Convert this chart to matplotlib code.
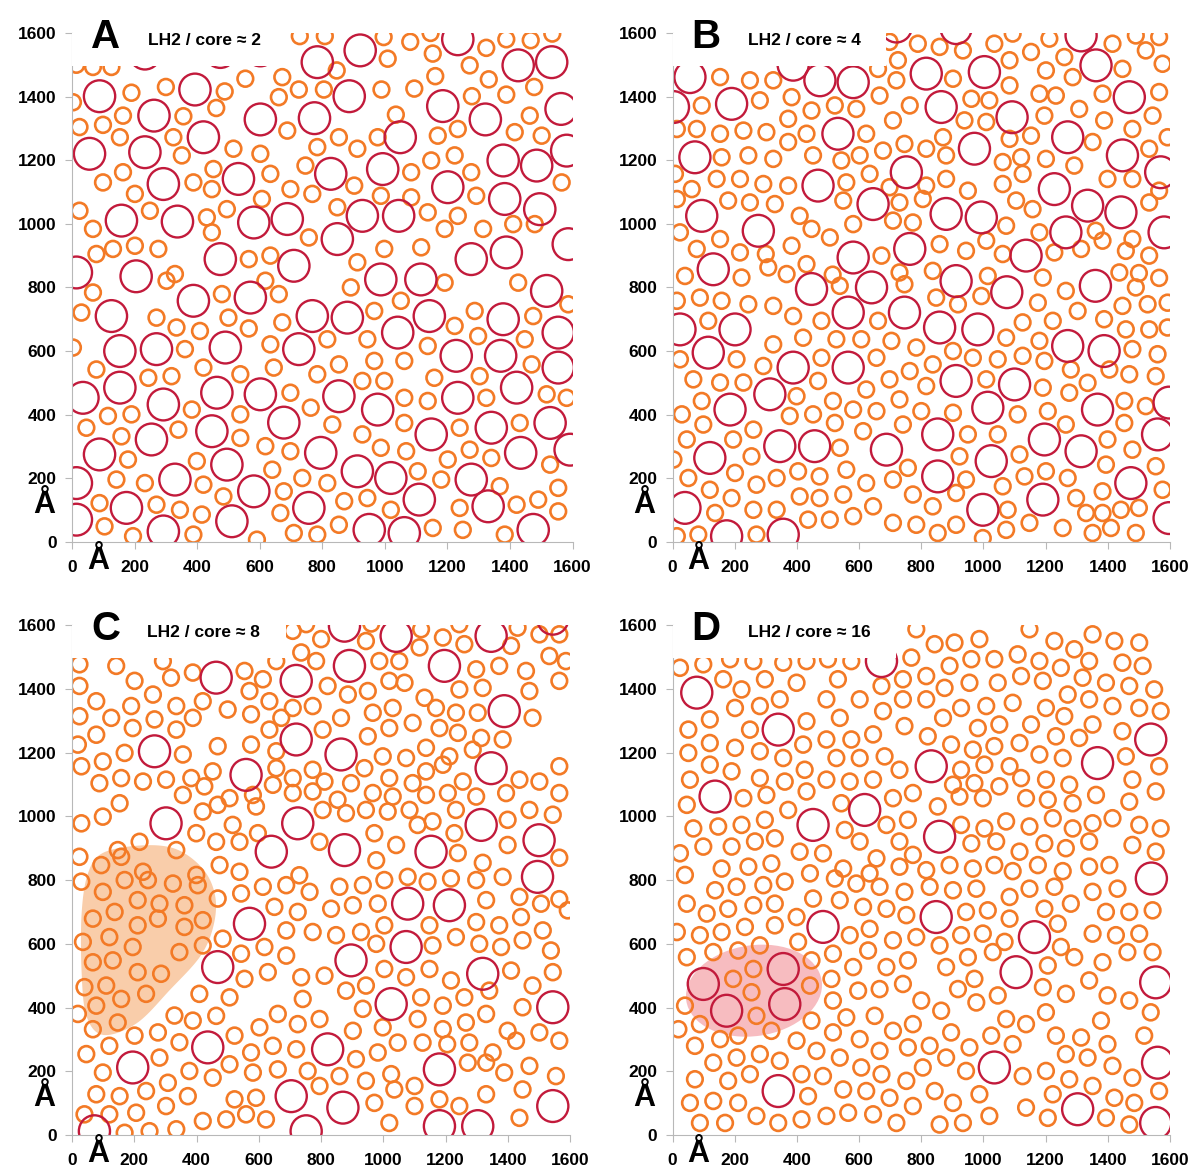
import numpy as np
import matplotlib
matplotlib.use("Agg")
import matplotlib.pyplot as plt
from matplotlib.patches import Circle, Rectangle, Ellipse, Polygon
from matplotlib.collections import PatchCollection

plt.rcParams['font.family'] = ['Liberation Sans', 'DejaVu Sans']

# ─────────────────────────────────────────────
# Data: ring centres in Å
# ─────────────────────────────────────────────
A_CORES = [
    (921, 1545), (1233, 1580), (784, 1508), (1426, 1498), (1533, 1508), (233, 1535), (474, 1540), (602, 1545),
    (393, 1422), (886, 1401), (88, 1401), (1563, 1361), (1185, 1370), (262, 1340), (602, 1328), (775, 1332),
    (1321, 1328), (1049, 1272), (56, 1220), (233, 1225), (420, 1272), (1378, 1199), (1485, 1183), (1581, 1230),
    (827, 1157), (993, 1172), (292, 1125), (532, 1141), (1201, 1115), (1383, 1078), (158, 1010), (337, 1007),
    (581, 1004), (688, 1015), (928, 1025), (1044, 1025), (1495, 1046), (848, 952), (474, 889), (709, 868),
    (1276, 889), (1388, 910), (1586, 936), (14, 847), (205, 835), (987, 825), (1115, 825),
    (1517, 789), (388, 758), (570, 768), (126, 710), (768, 710), (880, 705), (1041, 658), (1142, 710),
    (1378, 700), (1554, 658), (153, 600), (270, 606), (490, 611), (725, 606), (1228, 585), (1370, 585),
    (1554, 548), (153, 485), (35, 453), (292, 432), (463, 469), (602, 464), (853, 458), (1233, 453),
    (1421, 485), (977, 416), (677, 375), (1340, 359), (1528, 374), (254, 322), (447, 348), (1148, 338),
    (88, 275), (495, 243), (795, 280), (1434, 280), (1592, 290), (912, 222), (1019, 201), (1276, 196),
    (14, 185), (329, 196), (581, 159), (174, 107), (757, 107), (1110, 133), (1330, 112), (14, 70),
    (292, 33), (511, 65), (950, 38), (1062, 28), (1474, 38),
]
A_LH2 = [
    (728, 1590), (808, 1590), (996, 1587), (1081, 1572), (1146, 1600), (1324, 1553), (1388, 1580), (1466, 1577),
    (1535, 1598), (1009, 1519), (1153, 1535), (846, 1482), (1271, 1498), (14, 1500), (67, 1493), (126, 1493),
    (554, 1456), (672, 1461), (1161, 1464), (1332, 1454), (1477, 1430), (190, 1412), (300, 1430), (488, 1416),
    (661, 1398), (725, 1422), (805, 1422), (989, 1422), (1094, 1425), (1278, 1401), (1388, 1406), (3, 1382),
    (163, 1340), (461, 1364), (1035, 1343), (1463, 1340), (24, 1304), (99, 1311), (356, 1338), (153, 1272),
    (324, 1272), (688, 1293), (853, 1272), (977, 1272), (1169, 1277), (1233, 1298), (1415, 1288), (1501, 1277),
    (351, 1215), (516, 1236), (602, 1220), (784, 1241), (912, 1236), (1148, 1199), (1223, 1215), (746, 1183),
    (452, 1172), (163, 1162), (634, 1157), (1084, 1162), (1276, 1162), (99, 1130), (388, 1130), (447, 1109),
    (902, 1120), (1565, 1130), (201, 1094), (607, 1078), (698, 1109), (768, 1094), (987, 1088), (1084, 1083),
    (1292, 1088), (24, 1041), (249, 1041), (431, 1020), (495, 1046), (848, 1052), (1137, 1036), (1233, 1025),
    (67, 984), (447, 973), (757, 957), (1191, 984), (1314, 984), (1410, 999), (1479, 999), (131, 921),
    (78, 905), (201, 931), (276, 921), (998, 921), (1116, 926), (912, 879), (634, 900), (565, 889), (329, 842),
    (302, 821), (618, 821), (1191, 815), (1426, 815), (67, 784), (479, 779), (661, 779), (891, 800),
    (1051, 758), (1586, 747), (30, 721), (270, 705), (334, 674), (409, 663), (500, 705), (565, 671),
    (672, 690), (966, 726), (1223, 679), (1287, 726), (1474, 710), (816, 637), (944, 637), (1298, 647),
    (1447, 637), (3, 611), (361, 606), (634, 621), (1137, 616), (78, 542), (420, 548), (538, 527),
    (645, 548), (784, 527), (853, 558), (966, 569), (1062, 569), (1158, 516), (1303, 521), (1469, 558),
    (928, 506), (998, 506), (244, 516), (318, 521), (698, 469), (1062, 453), (1137, 443), (1324, 453),
    (1517, 464), (1581, 453), (763, 422), (115, 396), (190, 401), (383, 416), (538, 401), (832, 369),
    (1062, 374), (1239, 359), (1431, 374), (46, 359), (158, 332), (340, 353), (538, 327), (928, 338),
    (987, 296), (179, 259), (399, 254), (618, 301), (698, 285), (1068, 285), (1201, 259), (1271, 290),
    (1340, 264), (1528, 243), (640, 227), (1105, 222), (1180, 196), (142, 196), (233, 185), (420, 180),
    (484, 143), (677, 159), (736, 201), (816, 185), (1367, 175), (1554, 170), (88, 122), (270, 117),
    (345, 101), (870, 128), (944, 138), (1019, 101), (1239, 107), (1421, 117), (1490, 133), (1554, 96),
    (104, 49), (195, 18), (388, 23), (415, 86), (666, 91), (709, 28), (784, 23), (853, 54),
    (1153, 44), (1249, 38), (1383, 23), (591, 7),
]

B_CORES = [
    (720, 1620), (912, 1615), (1314, 1592), (816, 1472), (1003, 1477), (1362, 1498), (56, 1461), (388, 1500),
    (474, 1451), (581, 1445), (190, 1377), (3, 1367), (864, 1367), (1092, 1335), (1469, 1398), (532, 1283),
    (971, 1236), (1271, 1272), (72, 1209), (752, 1162), (1447, 1215), (1570, 1162), (468, 1120), (1228, 1109),
    (1335, 1057), (94, 1025), (645, 1062), (880, 1031), (993, 1020), (1442, 1036), (276, 978), (1265, 973),
    (1581, 973), (581, 894), (763, 921), (1137, 900), (131, 857), (447, 795), (640, 800), (912, 820),
    (1075, 785), (1360, 805), (565, 721), (746, 721), (24, 668), (201, 668), (859, 674), (982, 668),
    (1271, 616), (1388, 600), (115, 595), (388, 548), (565, 548), (912, 506), (1100, 495), (313, 464),
    (185, 416), (1014, 422), (1367, 416), (1597, 438), (120, 264), (345, 301), (457, 301), (688, 290),
    (853, 338), (1196, 322), (1314, 285), (1560, 338), (1025, 254), (853, 206), (1474, 185), (40, 107),
    (998, 101), (1191, 133), (1597, 75), (174, 18), (356, 23),
]
B_LH2 = [
    (789, 1566), (859, 1556), (934, 1545), (1035, 1566), (1094, 1598), (1153, 1540), (1212, 1582), (1260, 1524),
    (1415, 1566), (1490, 1592), (1522, 1545), (1565, 1587), (725, 1514), (698, 1572), (1447, 1487), (1576, 1503),
    (1084, 1514), (1201, 1482), (153, 1461), (249, 1451), (324, 1451), (661, 1487), (666, 1403), (720, 1451),
    (902, 1456), (1084, 1435), (1287, 1461), (94, 1372), (281, 1388), (383, 1398), (522, 1372), (591, 1361),
    (763, 1372), (961, 1393), (1019, 1388), (1180, 1409), (1233, 1403), (1308, 1361), (1383, 1409), (1565, 1414),
    (447, 1356), (372, 1330), (709, 1325), (939, 1325), (1009, 1320), (1196, 1340), (1388, 1325), (1544, 1340),
    (14, 1298), (78, 1298), (153, 1283), (228, 1293), (302, 1288), (431, 1283), (623, 1283), (746, 1251),
    (816, 1236), (870, 1272), (1084, 1267), (1153, 1277), (1351, 1257), (1479, 1298), (1592, 1272), (158, 1209),
    (244, 1215), (324, 1204), (372, 1257), (452, 1215), (543, 1199), (602, 1215), (677, 1230), (880, 1215),
    (1062, 1194), (1121, 1209), (1201, 1204), (1292, 1183), (1533, 1236), (8, 1157), (62, 1109), (142, 1141),
    (217, 1141), (292, 1125), (372, 1120), (559, 1130), (634, 1157), (698, 1115), (816, 1120), (880, 1141),
    (950, 1104), (1062, 1125), (1126, 1157), (1399, 1141), (1479, 1141), (1565, 1104), (14, 1078), (179, 1073),
    (249, 1067), (329, 1062), (409, 1025), (549, 1073), (730, 1067), (805, 1078), (1105, 1073), (1158, 1046),
    (1533, 1067), (24, 973), (153, 952), (447, 984), (506, 957), (581, 999),
    (709, 1010), (773, 1004), (1073, 994), (1180, 973), (1361, 978), (1479, 952), (78, 921), (217, 910),
    (383, 931), (431, 873), (672, 900), (859, 936), (944, 915), (1009, 947), (1062, 905), (1228, 910),
    (1314, 921), (1383, 947), (1458, 915), (1533, 900), (40, 836), (222, 831), (308, 863), (367, 842),
    (515, 840), (730, 847), (837, 852), (1014, 836), (1191, 831), (1437, 847), (1500, 845), (1565, 830),
    (538, 805), (746, 810), (1265, 789), (1490, 800), (14, 758), (88, 768), (158, 758),
    (244, 747), (324, 742), (388, 710), (479, 695), (661, 695), (848, 768), (918, 747), (993, 773),
    (1175, 752), (1303, 726), (1447, 742), (1528, 747), (1592, 752), (115, 695), (1126, 690), (1223, 695),
    (1388, 700), (1458, 668), (1533, 668), (1592, 674), (324, 621), (420, 642), (527, 637), (607, 637),
    (704, 632), (784, 611), (1073, 642), (1180, 632), (1479, 606), (1560, 590), (24, 574), (206, 574),
    (292, 553), (479, 579), (656, 579), (763, 537), (837, 558), (902, 600), (966, 579), (1046, 574),
    (1126, 585), (1196, 569), (1281, 542), (1405, 542), (1469, 527), (1554, 521), (67, 511), (153, 501),
    (228, 501), (468, 506), (623, 479), (698, 511), (816, 490), (1009, 511), (1191, 485),
    (94, 443), (30, 401), (399, 458), (516, 443), (581, 416), (656, 411), (730, 448), (800, 411),
    (902, 406), (1110, 401), (1207, 411), (1276, 469), (1453, 443), (1522, 427), (99, 369), (260, 353),
    (377, 396), (452, 401), (522, 374), (613, 348), (741, 369), (1265, 369), (1453, 374), (46, 322),
    (195, 322), (538, 296), (950, 338), (1046, 338), (1399, 322), (1479, 290), (3, 259), (254, 269),
    (559, 227), (757, 233), (923, 269), (1116, 275), (1394, 243), (1554, 238), (51, 201), (201, 217),
    (270, 180), (335, 201), (404, 222), (473, 206), (623, 185), (709, 196), (944, 196), (1062, 175),
    (1132, 206), (1201, 222), (1271, 201), (1383, 159), (120, 164), (137, 91), (190, 138), (260, 101),
    (335, 101), (409, 143), (473, 138), (549, 149), (645, 112), (773, 149), (837, 112), (912, 154),
    (1078, 101), (1298, 138), (1442, 101), (1576, 164), (14, 18), (83, 23), (270, 23), (436, 70),
    (506, 70), (581, 81), (709, 60), (784, 54), (853, 28), (912, 54), (998, 12), (1073, 38),
    (1148, 60), (1255, 44), (1330, 91), (1351, 28), (1410, 44), (1490, 28), (300, 905), (1335, 500),
    (1383, 91), (1500, 107),
]

C_CORES = [
    (875, 1598), (1041, 1566), (1346, 1566), (1544, 1620), (891, 1472), (1196, 1472), (463, 1435), (720, 1425),
    (1388, 1330), (720, 1241), (265, 1204), (864, 1194), (559, 1130), (1346, 1151), (302, 978), (725, 978),
    (1314, 973), (1500, 925), (640, 889), (875, 894), (1153, 889), (1495, 810), (1078, 726), (1212, 721),
    (570, 663), (1073, 590), (468, 527), (896, 548), (1319, 506), (1025, 411), (1544, 401), (195, 212),
    (436, 275), (821, 269), (1180, 206), (704, 122), (870, 86), (1544, 91), (752, 12), (1180, 28),
    (1303, 28), (72, 12),
]
C_LH2 = [
    (709, 1582), (752, 1603), (1121, 1587), (1191, 1561), (1244, 1603), (1431, 1592), (1501, 1571), (1565, 1571),
    (800, 1556), (944, 1550), (1116, 1530), (1260, 1540), (1410, 1535), (736, 1514), (1051, 1487), (987, 1487),
    (1533, 1503), (1586, 1487), (24, 1477), (142, 1472), (292, 1487), (656, 1487), (784, 1487), (554, 1456),
    (388, 1451), (318, 1435), (201, 1425), (24, 1409), (613, 1430), (821, 1409), (1068, 1419), (1298, 1461),
    (1372, 1472), (1458, 1456), (1565, 1425), (886, 1382), (950, 1393), (1132, 1372), (1244, 1398), (1319, 1403),
    (1469, 1393), (78, 1361), (190, 1346), (260, 1382), (335, 1346), (420, 1361), (500, 1335), (570, 1393),
    (634, 1361), (709, 1340), (773, 1346), (24, 1314), (126, 1309), (265, 1304), (575, 1320), (1479, 1309),
    (864, 1309), (966, 1325), (1030, 1340), (1094, 1293), (1169, 1340), (1233, 1325), (1303, 1325), (78, 1256),
    (195, 1277), (335, 1272), (634, 1272), (805, 1272), (950, 1251), (1019, 1277), (1239, 1262), (1314, 1246),
    (1383, 1241), (19, 1225), (356, 1194), (468, 1220), (575, 1225), (656, 1204), (1137, 1215), (1212, 1188),
    (1287, 1209), (30, 1157), (99, 1172), (169, 1199), (88, 1104), (158, 1120), (228, 1109), (302, 1115),
    (383, 1120), (452, 1141), (656, 1151), (773, 1146), (811, 1109), (939, 1151), (998, 1188), (1073, 1183),
    (1191, 1162), (1501, 1109), (1565, 1157), (896, 1104), (1094, 1104), (1255, 1109), (1437, 1115), (1565, 1073),
    (153, 1041), (356, 1067), (506, 1057), (581, 1067), (645, 1099), (709, 1073), (853, 1052), (966, 1073),
    (1030, 1062), (1207, 1073), (1394, 1073), (30, 978), (99, 999), (468, 1036), (516, 973), (591, 1031),
    (805, 1020), (880, 1010), (944, 1020), (1084, 1020), (1158, 984), (1233, 1020), (1399, 989), (1469, 1020),
    (1544, 1005), (217, 920), (147, 894), (335, 894), (399, 947), (463, 920), (538, 920), (597, 947),
    (795, 920), (971, 947), (1041, 910), (1110, 973), (1228, 947), (1399, 910), (24, 873), (94, 847),
    (158, 873), (1565, 870), (228, 826), (399, 816), (474, 847), (30, 795), (99, 763), (169, 800),
    (244, 800), (324, 789), (404, 784), (543, 758), (613, 779), (688, 784), (763, 763), (859, 779),
    (934, 784), (1078, 810), (1142, 795), (1298, 800), (1383, 810), (1565, 740), (1506, 726), (1437, 747),
    (1330, 737), (211, 737), (281, 726), (361, 721), (468, 742), (650, 716), (725, 700), (832, 710),
    (902, 721), (982, 726), (67, 679), (137, 700), (211, 658), (276, 679), (361, 653), (420, 674),
    (688, 642), (773, 637), (848, 627), (928, 637), (1003, 658), (1148, 658), (1298, 668), (1372, 658),
    (1442, 684), (1512, 642), (1592, 705), (35, 606), (120, 621), (195, 590), (345, 574), (420, 595),
    (484, 616), (543, 569), (618, 590), (977, 600), (1233, 621), (1308, 600), (1447, 611), (1538, 579),
    (67, 542), (131, 548), (211, 511), (286, 506), (554, 490), (629, 511), (688, 563), (736, 495),
    (811, 500), (1003, 521), (1073, 495), (1148, 521), (1217, 485), (1410, 516), (1479, 469), (1544, 511),
    (40, 464), (110, 469), (158, 427), (238, 443), (409, 443), (506, 432), (741, 427), (880, 453),
    (1121, 432), (1191, 406), (1260, 432), (1340, 453), (19, 380), (78, 406), (147, 353), (67, 332),
    (201, 312), (276, 322), (329, 375), (388, 359), (463, 374), (522, 312), (602, 338), (661, 380),
    (725, 348), (795, 364), (934, 396), (998, 338), (1046, 290), (1110, 364), (1191, 332), (1265, 353),
    (1330, 380), (1399, 327), (1447, 401), (1501, 322), (902, 327), (345, 291), (46, 254), (120, 280),
    (281, 243), (506, 222), (575, 259), (645, 280), (720, 269), (912, 238), (982, 259), (1126, 290),
    (1351, 259), (1426, 296), (1565, 296), (99, 196), (308, 164), (377, 201), (452, 180), (581, 196),
    (661, 206), (757, 201), (859, 185), (944, 170), (1025, 191), (1330, 227), (1469, 217), (1554, 185),
    (1100, 154), (78, 128), (153, 122), (238, 138), (302, 91), (372, 122), (522, 112), (795, 154),
    (971, 101), (1100, 91), (1244, 91), (40, 65), (120, 65), (206, 70), (420, 44), (495, 49),
    (559, 65), (623, 49), (1019, 38), (1437, 54), (335, 18),
    (961, 1605), (1019, 1425), (388, 1309), (672, 1309), (1180, 1277), (709, 1120), (1137, 1141), (1019, 1120),
    (425, 1094), (773, 1078), (1137, 1067), (1298, 1062), (420, 1015), (1014, 1015), (1239, 885), (977, 862),
    (1319, 854), (538, 826), (730, 815), (1003, 800), (1217, 805), (1158, 595), (1378, 590), (944, 469),
    (1205, 285), (1276, 290), (1271, 227), (1388, 196), (591, 117), (1035, 143), (1180, 112),
    (1330, 128), (1447, 143), (169, 7), (249, 12),
]
C_BLOB = [
    (101, 886), (229, 909), (337, 896), (422, 833), (460, 749), (454, 655), (412, 561),
    (315, 456), (208, 351), (101, 314), (47, 372), (31, 508), (31, 697), (52, 823),
]

D_CORES = [
    (78, 1388), (340, 1272), (137, 1062), (452, 973), (618, 1020), (832, 1157), (859, 936), (1367, 1167),
    (1538, 1241), (672, 1487), (1540, 805), (848, 684), (484, 653), (1164, 621), (1105, 511), (1554, 479),
    (99, 474), (174, 390), (356, 521), (361, 411), (1035, 212), (1560, 227), (340, 138), (1303, 81),
    (1554, 38),
]
D_LH2 = [
    (784, 1587), (1148, 1587), (843, 1540), (907, 1545), (987, 1556), (1228, 1550), (1292, 1524), (1351, 1571),
    (1421, 1550), (1501, 1545), (1110, 1508), (1180, 1487), (1249, 1466), (1340, 1487), (1447, 1482), (1512, 1472),
    (768, 1498), (891, 1472), (961, 1493), (1035, 1493), (24, 1466), (99, 1477), (185, 1493), (260, 1487),
    (356, 1482), (431, 1487), (500, 1493), (575, 1487), (163, 1430), (222, 1398), (297, 1430), (399, 1419),
    (532, 1430), (672, 1409), (741, 1430), (816, 1440), (875, 1403), (955, 1419), (1046, 1419), (1121, 1440),
    (1191, 1425), (1319, 1435), (1394, 1419), (1469, 1409), (1549, 1398), (201, 1340), (281, 1346), (345, 1367),
    (495, 1367), (602, 1367), (677, 1330), (741, 1367), (816, 1367), (928, 1340), (1009, 1346), (1094, 1356),
    (1201, 1340), (1271, 1382), (1340, 1367), (1415, 1346), (1501, 1340), (1570, 1330), (120, 1304), (51, 1272),
    (249, 1272), (431, 1298), (538, 1309), (746, 1283), (870, 1309), (982, 1277), (1051, 1288), (1153, 1288),
    (1260, 1314), (1351, 1288), (120, 1230), (201, 1215), (281, 1204), (420, 1225), (495, 1241), (575, 1241),
    (645, 1257), (821, 1251), (896, 1225), (966, 1209), (1035, 1220), (1116, 1230), (1233, 1251), (1308, 1246),
    (1447, 1267), (51, 1199), (120, 1162), (190, 1141), (356, 1183), (425, 1146), (527, 1183), (682, 1188),
    (730, 1146), (928, 1146), (1003, 1162), (1180, 1194), (1255, 1183), (1458, 1188), (1565, 1157), (56, 1115),
    (361, 1109), (431, 1078), (495, 1115), (570, 1109), (645, 1115), (971, 1104), (1051, 1094), (1121, 1120),
    (1201, 1115), (1276, 1099), (1479, 1115), (1554, 1078), (46, 1036), (228, 1057), (302, 1067), (372, 1020),
    (543, 1041), (709, 1057), (773, 1073), (853, 1031), (923, 1062), (998, 1057), (1137, 1057), (1287, 1041),
    (1362, 1067), (1469, 1046), (67, 962), (147, 968), (222, 973), (297, 989), (554, 957), (688, 973),
    (757, 989), (928, 973), (1003, 962), (1073, 984), (1148, 968), (1351, 978), (1415, 994), (1501, 973),
    (1570, 962), (24, 884), (99, 905), (190, 905), (265, 921), (329, 931), (409, 889), (484, 884),
    (602, 921), (656, 868), (730, 921), (961, 915), (1041, 921), (1116, 889), (1196, 915), (1265, 900),
    (1479, 910), (40, 816), (158, 836), (244, 842), (318, 852), (549, 836), (816, 831), (891, 847),
    (966, 836), (1035, 847), (1175, 847), (1405, 847), (137, 768), (206, 779), (292, 784), (361, 795),
    (522, 805), (591, 789), (666, 779), (746, 763), (827, 779), (902, 768), (977, 773), (1084, 747),
    (1148, 773), (1228, 779), (1351, 763), (1431, 773), (46, 726), (110, 695), (179, 710), (260, 721),
    (329, 726), (399, 684), (452, 742), (538, 737), (613, 716), (752, 690), (944, 700), (1014, 705),
    (1084, 679), (1196, 710), (1281, 726), (1394, 700), (1469, 700), (1544, 705), (14, 637), (88, 627),
    (158, 637), (233, 653), (329, 658), (404, 606), (570, 627), (634, 647), (709, 611), (784, 621),
    (859, 595), (928, 627), (998, 632), (1068, 606), (1239, 663), (1249, 590), (1351, 632), (1426, 627),
    (1501, 632), (46, 558), (131, 574), (211, 579), (281, 595), (447, 548), (516, 569), (581, 527),
    (629, 579), (688, 527), (757, 548), (880, 527), (950, 558), (1207, 532), (1292, 558), (1383, 542),
    (1463, 574), (1544, 574), (195, 490), (260, 521), (254, 448), (270, 374), (442, 469), (40, 406),
    (19, 332), (88, 348), (211, 312), (318, 327), (399, 296), (447, 359), (511, 490), (516, 422),
    (597, 453), (666, 458), (741, 474), (800, 422), (918, 458), (977, 416), (1046, 438),
    (1191, 464), (1265, 443), (1340, 485), (1399, 438), (1469, 422), (1538, 385), (72, 280), (153, 301),
    (516, 322), (559, 369), (602, 301), (650, 374), (709, 327), (773, 348), (827, 280), (864, 390),
    (896, 322), (955, 275), (1025, 312), (1073, 364), (1137, 348), (1201, 385), (1233, 312), (1314, 306),
    (1378, 359), (1399, 285), (1517, 312), (463, 264), (538, 243), (666, 264), (131, 227), (206, 243),
    (281, 254), (345, 233), (415, 191), (484, 185), (607, 212), (672, 191), (752, 170), (805, 212),
    (880, 243), (944, 201), (1126, 185), (1201, 201), (1265, 254), (1335, 243), (1415, 217), (1479, 180),
    (72, 175), (179, 170), (249, 191), (436, 122), (549, 143), (623, 138), (698, 117), (773, 91),
    (843, 138), (902, 101), (987, 128), (1223, 128), (1276, 175), (1351, 154), (1421, 117), (1485, 101),
    (1565, 138), (56, 101), (131, 107), (211, 101), (88, 38), (169, 38), (270, 60), (340, 38),
    (415, 49), (495, 60), (565, 70), (645, 65), (720, 38), (859, 33), (934, 38), (1019, 60),
    (1137, 86), (1207, 54), (1394, 54), (1469, 33),
    (602, 1183), (1084, 1157), (281, 1120), (902, 1099), (1207, 1052), (1223, 994), (1287, 962), (773, 879),
    (1340, 921), (1554, 889), (442, 821), (634, 821), (730, 842), (1094, 828), (1255, 828), (1340, 842),
    (688, 710), (971, 490), (1030, 574), (757, 275), (1094, 285),
]

LETTERS = ['A', 'B', 'C', 'D']
RATIOS = ['LH2 / core ≈ 2', 'LH2 / core ≈ 4', 'LH2 / core ≈ 8', 'LH2 / core ≈ 16']
TICKS = [0, 200, 400, 600, 800, 1000, 1200, 1400, 1600]

# ─────────────────────────────────────────────
# Style
# ─────────────────────────────────────────────
R_LH2 = 25      # Å
R_CORE = 50     # Å
LH2_COLOR = '#f37a26'
CORE_COLOR = '#c21a3b'
AXIS_GRAY = '#b8b8b8'


def smooth_closed(points, n=16):
    # closed Catmull-Rom curve through the outline points
    p = np.array(points, dtype=float)
    out = []
    for i in range(len(p)):
        p0, p1, p2, p3 = p[i - 1], p[i], p[(i + 1) % len(p)], p[(i + 2) % len(p)]
        for t in np.linspace(0, 1, n, endpoint=False):
            out.append(0.5 * ((2 * p1) + (-p0 + p2) * t + (2 * p0 - 5 * p1 + 4 * p2 - p3) * t ** 2
                              + (-p0 + 3 * p1 - 3 * p2 + p3) * t ** 3))
    return np.array(out)


def draw_panel(ax, cores, lh2, letter, ratio, box_w):
    ax.set_xlim(0, 1600)
    ax.set_ylim(0, 1600)
    rings = [Circle(c, R_LH2) for c in lh2]
    ax.add_collection(PatchCollection(rings, facecolor='none', edgecolor=LH2_COLOR, linewidth=1.9, zorder=2))
    big = [Circle(c, R_CORE) for c in cores]
    ax.add_collection(PatchCollection(big, facecolor='none', edgecolor=CORE_COLOR, linewidth=1.7, zorder=2))

    # white label box hiding the top-left corner
    ax.add_patch(Rectangle((-2, 1497), box_w, 140, facecolor='white', edgecolor='none', zorder=3))
    ax.text(108, 1553, letter, fontsize=29, fontweight='bold', ha='center', va='baseline', zorder=4, clip_on=False)
    ax.text(242, 1562, ratio, fontsize=12.5, fontweight='bold', ha='left', va='baseline', zorder=4)

    ax.set_xticks(TICKS)
    ax.set_yticks(TICKS)
    ax.set_xticklabels([str(t) for t in TICKS], fontsize=12.5, fontweight='bold')
    ax.set_yticklabels([str(t) for t in TICKS], fontsize=12.5, fontweight='bold')
    ax.tick_params(axis='both', direction='out', length=5, width=0.8, color=AXIS_GRAY)
    ax.tick_params(axis='x', pad=8)
    ax.tick_params(axis='y', pad=6)
    for side in ['top', 'right']:
        ax.spines[side].set_visible(False)
    for side in ['left', 'bottom']:
        ax.spines[side].set_color(AXIS_GRAY)
        ax.spines[side].set_linewidth(0.8)

    ax.text(-0.056, 0.072, 'Å', transform=ax.transAxes, fontsize=22, fontweight='bold', ha='center', va='center')
    ax.text(0.052, -0.037, 'Å', transform=ax.transAxes, fontsize=22, fontweight='bold', ha='center', va='center')


fig = plt.figure(figsize=(12.02, 11.71), dpi=100)
axA = fig.add_axes([0.0599, 0.5372, 0.4165, 0.4347])
axB = fig.add_axes([0.5595, 0.5372, 0.4139, 0.4347])
axC = fig.add_axes([0.0599, 0.0307, 0.4145, 0.4355])
axD = fig.add_axes([0.5595, 0.0307, 0.4139, 0.4355])

# highlighted regions
axC.add_patch(Polygon(smooth_closed(C_BLOB), closed=True, facecolor='#f9cdaa', edgecolor='none', zorder=1))
axD.add_patch(Ellipse((262, 453), 440, 285, angle=8, facecolor='#f7bcc0', edgecolor='none', zorder=1))

draw_panel(axA, A_CORES, A_LH2, LETTERS[0], RATIOS[0], 690)
draw_panel(axB, B_CORES, B_LH2, LETTERS[1], RATIOS[1], 690)
draw_panel(axC, C_CORES, C_LH2, LETTERS[2], RATIOS[2], 690)
draw_panel(axD, D_CORES, D_LH2, LETTERS[3], RATIOS[3], 720)

plt.savefig('out.png', dpi=100)
